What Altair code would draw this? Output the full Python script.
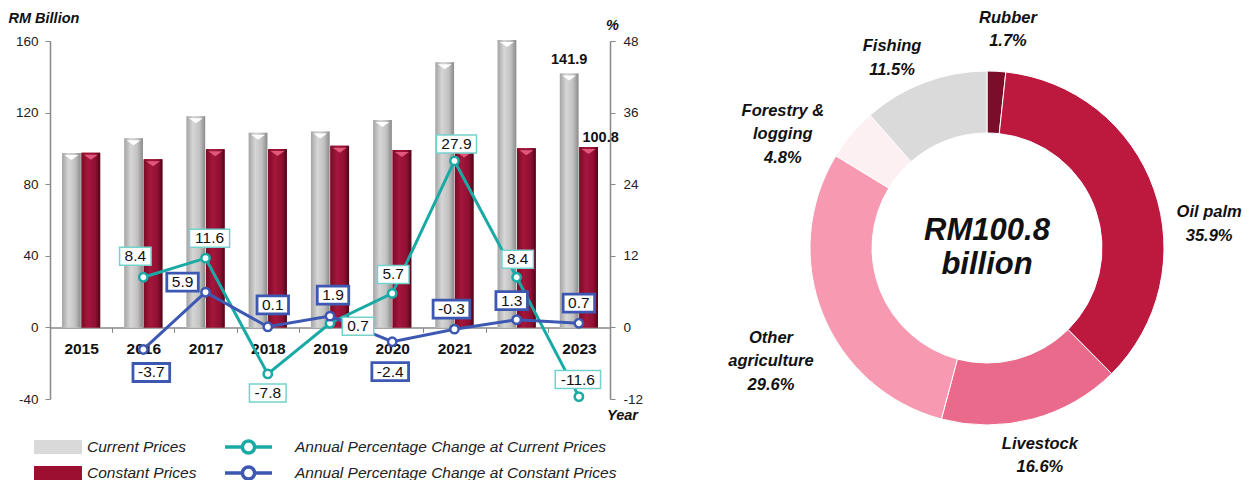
import altair as alt
import pandas as pd

# ---------------- data ----------------
years = ['2015', '2016', '2017', '2018', '2019', '2020', '2021', '2022', '2023']
current_prices = [97.5, 105.7, 118.0, 108.8, 109.5, 115.8, 148.1, 160.5, 141.9]
constant_prices = [97.6, 94.0, 99.5, 99.6, 101.5, 99.1, 98.8, 100.1, 100.8]
pct_years = ['2016', '2017', '2018', '2019', '2020', '2021', '2022', '2023']
pct_current = [8.4, 11.6, -7.8, 0.7, 5.7, 27.9, 8.4, -11.6]
pct_constant = [-3.7, 5.9, 0.1, 1.9, -2.4, -0.3, 1.3, 0.7]

sectors = ['Rubber', 'Oil palm', 'Livestock', 'Other agriculture', 'Forestry & logging', 'Fishing']
sector_labels = ['Rubber', 'Oil palm', 'Livestock', 'Other\nagriculture', 'Forestry &\nlogging', 'Fishing']
shares = [1.7, 35.9, 16.6, 29.6, 4.8, 11.5]

# ---------------- layout / style ----------------
W, H = 560, 358
STEP = W / len(years)
CX, CY = 937, 207          # donut centre (px, relative to plot origin)
cur_dx = [-8, 4, 0, 28, 1, 2, 1, -1]
cur_dy = [-21, -20, 19, 3, -19, -17, -18, -17]
con_dx = [8, -23, 5, 3, -2, -3, -5, 0]
con_dy = [23, -10, -22, -21, 30, -20, -19, -20]
sector_colors = ['#7a0d27', '#bd193f', '#e96a8b', '#f799b1', '#fdf0f3', '#dadada']
label_angle_deg = [5.2, 80.8, 164.9, 247.4, -56.1, -25.2]   # first text line of each label
label_radius = [231, 225, 203, 234, 246, 223]

SER_BAR = ['Current Prices', 'Constant Prices']
SER_PCT = ['Annual Percentage Change at Current Prices', 'Annual Percentage Change at Constant Prices']
TEAL, BLUE = '#1aaaa5', '#3d58b2'
FONT = 'Liberation Sans'
HYPHEN_LABEL = "replace(datum.label, '\u2212', '-')"

bars_df = pd.DataFrame({
    'year': years * 2,
    'series': [SER_BAR[0]] * len(years) + [SER_BAR[1]] * len(years),
    'value': current_prices + constant_prices,
})
pct_df = pd.DataFrame({
    'year': pct_years * 2,
    'series': [SER_PCT[0]] * len(pct_years) + [SER_PCT[1]] * len(pct_years),
    'value': pct_current + pct_constant,
    'dx': cur_dx + con_dx,
    'dy': cur_dy + con_dy,
})
donut_df = pd.DataFrame({
    'sector': sectors,
    'label': [f"{l}\n{s:.1f}%" for l, s in zip(sector_labels, shares)],
    'share': shares,
    'color': sector_colors,
    'idx': list(range(len(sectors))),
    'la': label_angle_deg,
    'lr': label_radius,
})
centre_df = pd.DataFrame({'txt': [f"RM{constant_prices[-1]}\nbillion"]})

# ---------------- encodings ----------------
x_enc = alt.X('year:N', sort=years, scale=alt.Scale(paddingInner=0, paddingOuter=0),
              axis=alt.Axis(title='Year', titleX=572, titleY=88, titleAlign='center',
                            titleBaseline='middle', titleFontStyle='italic', titleFontWeight='bold',
                            titleFontSize=14.5, titleColor='#111',
                            labelFontWeight='bold', labelFontSize=15.5, labelColor='#111',
                            labelPadding=9, labelAngle=0, tickBand='extent', tickSize=5,
                            tickColor='#888', domainColor='#888', domainWidth=1.5,
                            offset=-H * 40 / 200))
y_left = alt.Y('value:Q', scale=alt.Scale(domain=[-40, 160], nice=False, zero=False),
               axis=alt.Axis(orient='left', values=[-40, 0, 40, 80, 120, 160], grid=False,
                             labelExpr=HYPHEN_LABEL,
                             title='RM Billion', titleAngle=0, titleX=-42, titleY=-23,
                             titleAlign='left', titleBaseline='middle', titleFontStyle='italic',
                             titleFontWeight='bold', titleFontSize=14.5, titleColor='#111',
                             labelFontSize=13.5, labelColor='#222', labelPadding=7, tickSize=5,
                             tickColor='#888', domainColor='#888', domainWidth=1.5))
right_scale = alt.Scale(domain=[-12, 48], nice=False, zero=False)
right_axis = alt.Axis(orient='right', values=[-12, 0, 12, 24, 36, 48], grid=False,
                      labelExpr=HYPHEN_LABEL,
                      title='%', titleAngle=0, titleX=2, titleY=-16, titleAlign='center',
                      titleBaseline='middle', titleFontStyle='italic', titleFontWeight='bold',
                      titleFontSize=14.5, titleColor='#111',
                      labelFontSize=13.5, labelColor='#222', labelPadding=8, tickSize=5,
                      tickColor='#888', domainColor='#888', domainWidth=1.5)
y_right = alt.Y('value:Q', scale=right_scale, axis=right_axis)
y_right_lbl = alt.Y('ly:Q', scale=right_scale, axis=right_axis)
xoff_bar = alt.XOffset('series:N', sort=SER_BAR,
                       scale=alt.Scale(domain=SER_BAR, paddingInner=0.04, paddingOuter=0.62))

# ---------------- bars ----------------
base_bar = alt.Chart(bars_df)
flat_bars = base_bar.mark_bar().encode(
    x=x_enc, y=y_left, xOffset=xoff_bar,
    fill=alt.Fill('series:N', scale=alt.Scale(domain=SER_BAR, range=['#d9d9d9', '#9b1030']),
                  legend=alt.Legend(title=None, orient='none', legendX=-16, legendY=393,
                                    symbolType='M-1,-0.29H1V0.29H-1Z', symbolSize=2304,
                                    symbolStrokeWidth=0, clipHeight=26, rowPadding=0,
                                    labelOffset=5, labelFontSize=15.5, labelFontStyle='italic',
                                    labelColor='#222', labelFont=FONT, labelLimit=600, padding=0)),
)
grey_grad = alt.LinearGradient(gradient='linear', x1=0, x2=1, y1=0, y2=0, stops=[
    alt.GradientStop(color='#a4a4a4', offset=0), alt.GradientStop(color='#d6d6d6', offset=0.35),
    alt.GradientStop(color='#c2c2c2', offset=0.7), alt.GradientStop(color='#8a8a8a', offset=1)])
red_grad = alt.LinearGradient(gradient='linear', x1=0, x2=1, y1=0, y2=0, stops=[
    alt.GradientStop(color='#7a0b27', offset=0), alt.GradientStop(color='#a5163b', offset=0.35),
    alt.GradientStop(color='#8e1032', offset=0.75), alt.GradientStop(color='#4e0616', offset=1)])
grey_bars = base_bar.transform_filter(alt.datum.series == SER_BAR[0]).mark_bar(color=grey_grad).encode(
    x=x_enc, y=y_left, xOffset=xoff_bar)
red_bars = base_bar.transform_filter(alt.datum.series == SER_BAR[1]).mark_bar(color=red_grad).encode(
    x=x_enc, y=y_left, xOffset=xoff_bar)
cap_path = 'M-7,2L7,2L0,7Z'
grey_caps = base_bar.transform_filter(alt.datum.series == SER_BAR[0]).mark_point(
    shape=cap_path, size=4, filled=True, color='#ffffff', opacity=1).encode(
    x=x_enc, y=y_left, xOffset=xoff_bar)
red_caps = base_bar.transform_filter(alt.datum.series == SER_BAR[1]).mark_point(
    shape=cap_path, size=4, filled=True, color='#e2587c', opacity=1).encode(
    x=x_enc, y=y_left, xOffset=xoff_bar)
last = base_bar.transform_filter(alt.datum.year == years[-1])
lbl_cur = last.transform_filter(alt.datum.series == SER_BAR[0]).mark_text(
    fontSize=14.5, fontWeight='bold', color='#111', dy=-13).encode(
    x=x_enc, y=y_left, xOffset=xoff_bar, text=alt.Text('value:Q', format='.1f'))
lbl_con = last.transform_filter(alt.datum.series == SER_BAR[1]).mark_text(
    fontSize=14.5, fontWeight='bold', color='#111', dy=-9, dx=12).encode(
    x=x_enc, y=y_left, xOffset=xoff_bar, text=alt.Text('value:Q', format='.1f'))
bars_group = alt.layer(flat_bars, grey_bars, red_bars, grey_caps, red_caps, lbl_cur, lbl_con)

# ---------------- percentage lines ----------------
line_sym = 'M-1,0L-0.26,0M0.26,0L1,0M-0.26,0A0.26,0.26,0,1,1,0.26,0A0.26,0.26,0,1,1,-0.26,0'
stroke_enc = alt.Stroke('series:N', scale=alt.Scale(domain=SER_PCT, range=[TEAL, BLUE]),
                        legend=alt.Legend(title=None, orient='none', legendX=173, legendY=393,
                                          symbolType=line_sym, symbolSize=2209, symbolStrokeWidth=3.5,
                                          symbolFillColor='white', clipHeight=26, rowPadding=0,
                                          labelOffset=21, labelFontSize=15.5, labelFontStyle='italic',
                                          labelColor='#222', labelFont=FONT, labelLimit=600,
                                          padding=0))
pct_base = alt.Chart(pct_df).transform_calculate(
    lbl="replace(format(datum.value, '.1f'), '\u2212', '-')",
    ly=f"datum.value - datum.dy * 60 / {H}",
).transform_calculate(
    bw="8.6*(length(datum.lbl)-1) + 14.3 - (indexof(datum.lbl, '-') >= 0 ? 3.4 : 0)",
    xo=f"{STEP / 2} + datum.dx",
).transform_calculate(
    box="'M' + (-datum.bw/2) + ',-9H' + (datum.bw/2) + 'V9H' + (-datum.bw/2) + 'Z'"
)
lines = pct_base.mark_line(strokeWidth=3).encode(x=x_enc, y=y_right, stroke=stroke_enc,
                                                 detail='series:N')
points = pct_base.mark_point(filled=True, fill='white', size=70, strokeWidth=2.5, opacity=1).encode(
    x=x_enc, y=y_right, stroke=stroke_enc)
box_common = dict(x=x_enc, y=y_right_lbl,
                  xOffset=alt.XOffset('xo:Q', scale=None),
                  shape=alt.Shape('box:N', scale=None))
box_cur = pct_base.transform_filter(alt.datum.series == SER_PCT[0]).mark_point(
    size=4, filled=True, fill='white', stroke='#74d2cd', strokeWidth=1.5, opacity=1).encode(**box_common)
box_con = pct_base.transform_filter(alt.datum.series == SER_PCT[1]).mark_point(
    size=4, filled=True, fill='white', stroke=BLUE, strokeWidth=2.8, opacity=1).encode(**box_common)
box_text = pct_base.mark_text(fontSize=15.5, color='#111', baseline='middle').encode(
    x=x_enc, y=y_right_lbl,
    xOffset=alt.XOffset('xo:Q', scale=None),
    text='lbl:N')
pct_group = alt.layer(lines, points, box_cur, box_con, box_text)

# ---------------- donut ----------------
arcs = alt.Chart(donut_df).mark_arc(radius=177, radius2=115, stroke='white', strokeWidth=1).encode(
    theta=alt.Theta('share:Q', stack=True),
    order=alt.Order('idx:Q'),
    color=alt.Color('color:N', scale=None),
    x=alt.value(CX), y=alt.value(CY))
arc_labels = alt.Chart(donut_df).transform_calculate(
    lt='datum.la * PI / 180'
).mark_text(fontSize=16.5, fontWeight='bold', fontStyle='italic', color='#111',
            lineBreak='\n', lineHeight=23.5, align='center', baseline='middle').encode(
    text='label:N',
    theta=alt.Theta('lt:Q', scale=None, stack=False),
    radius=alt.Radius('lr:Q', scale=None),
    x=alt.value(CX), y=alt.value(CY))
centre = alt.Chart(centre_df).mark_text(fontSize=31, fontWeight='bold', fontStyle='italic',
                                        color='#111', lineBreak='\n', lineHeight=34, dy=-17,
                                        align='center', baseline='middle').encode(
    text='txt:N', x=alt.value(CX), y=alt.value(CY))
donut_group = alt.layer(arcs, arc_labels, centre)

chart = alt.layer(bars_group, pct_group, donut_group).resolve_scale(
    y='independent'
).properties(
    width=W, height=H,
    autosize=alt.AutoSizeParams(type='none'),
    padding={'left': 42, 'top': 33, 'right': 1237 - 42 - W, 'bottom': 472 - 33 - H},
).configure(font=FONT).configure_view(stroke=None)

chart.save('out.html', embed_options={'renderer': 'svg', 'actions': False})
